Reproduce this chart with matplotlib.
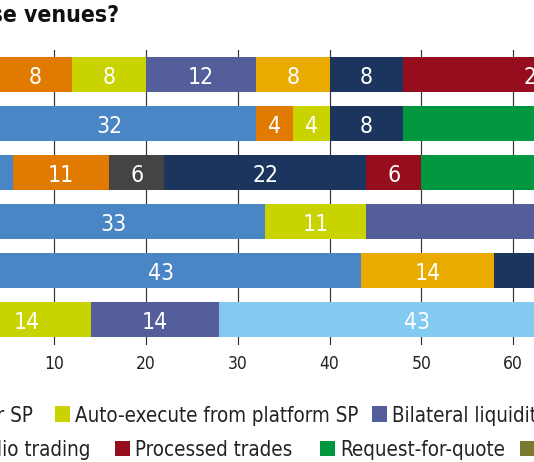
import matplotlib
matplotlib.use("Agg")
import matplotlib.pyplot as plt
from matplotlib import font_manager as fm
from matplotlib.patches import Rectangle
import numpy as np

# ---------------- data ----------------
venues = ["Venue 1", "Venue 2", "Venue 3", "Venue 4", "Venue 5", "Venue 6"]

series_names = [
    "All-to-all",
    "Auto-execute from dealer SP",
    "Auto-execute from platform SP",
    "Bilateral liquidity",
    "Central limit order book",
    "Dealer streams",
    "Portfolio trading",
    "Processed trades",
    "Request-for-quote",
    "Session-based trading",
    "Streaming",
]

all_to_all        = [4, 32, 5.49, 33, 43.4, 0]
auto_dealer_sp    = [8, 4, 10.51, 0, 0, 0]
auto_platform_sp  = [8, 4, 0, 11, 0, 14]
bilateral         = [12, 0, 0, 56, 0, 14]
clob              = [0, 0, 6, 0, 0, 0]
dealer_streams    = [8, 0, 0, 0, 14.5, 0]
portfolio_trading = [8, 8, 22, 0, 42.1, 0]
processed_trades  = [29, 0, 6, 0, 0, 0]
rfq               = [0, 52, 50, 0, 0, 0]
session_based     = [0, 0, 0, 0, 0, 0]
streaming         = [0, 0, 0, 0, 0, 43]

series_values = [all_to_all, auto_dealer_sp, auto_platform_sp, bilateral, clob,
                 dealer_streams, portfolio_trading, processed_trades, rfq,
                 session_based, streaming]

x_ticks = [10, 20, 30, 40, 50, 60, 70, 80, 90]

# ---------------- styles ----------------
colors = {
    "All-to-all": "#4a85c6",
    "Auto-execute from dealer SP": "#e07a00",
    "Auto-execute from platform SP": "#c8d300",
    "Bilateral liquidity": "#545e9b",
    "Central limit order book": "#444444",
    "Dealer streams": "#e9ab00",
    "Portfolio trading": "#1c355e",
    "Processed trades": "#960d1d",
    "Request-for-quote": "#00973f",
    "Session-based trading": "#7a7a2e",
    "Streaming": "#83caf0",
}

names = {f.name for f in fm.fontManager.ttflist}
if "Liberation Sans Narrow" in names:
    FAM = ["Liberation Sans Narrow", "DejaVu Sans"]
    STRETCH = "normal"
    sizes = dict(bar=18, tick=13.5, legend=17.5, title=19)
else:
    FAM = ["DejaVu Sans"]
    STRETCH = "condensed"
    sizes = dict(bar=16.5, tick=12.5, legend=14.8, title=16.5)
plt.rcParams["font.family"] = FAM
plt.rcParams["font.stretch"] = STRETCH

W, H = 534, 462
fig = plt.figure(figsize=(W / 100, H / 100), dpi=100)
fig.patch.set_facecolor("white")

# axes: x=0 sits at -37.9 px, 9.186 px per unit; axes spans y 50..345 px from top
ax = fig.add_axes([-37.9 / W, (H - 345) / H, 918.6 / W, 295 / H])
ax.set_xlim(0, 100)
ax.set_ylim(5.514, -0.506)

y = np.arange(len(venues))
left = np.zeros(len(venues))
for name, vals in zip(series_names, series_values):
    vals = np.array(vals, dtype=float)
    ax.barh(y, vals, left=left, height=0.714, color=colors[name], linewidth=0, zorder=2)
    for yi, l, v in zip(y, left, vals):
        if v >= 3:
            ax.annotate(f"{v:.0f}", xy=(l + v / 2, yi), xytext=(0, -6.4),
                        textcoords="offset points", ha="center", va="baseline",
                        color="white", fontsize=sizes["bar"], zorder=3)
    left += vals

for s in ax.spines.values():
    s.set_visible(False)
ax.set_xticks(x_ticks)
ax.set_xticklabels([str(t) for t in x_ticks])
ax.tick_params(axis="x", length=0, pad=7, labelsize=sizes["tick"], colors="#222222")
ax.set_yticks(y)
ax.set_yticklabels(venues)
ax.tick_params(axis="y", length=0, labelleft=False)
ax.grid(axis="x", color="#333333", linewidth=0.85, zorder=0)
ax.grid(axis="y", visible=False)
ax.set_axisbelow(True)

# title (left part falls outside the crop)
fig.text(119 / W, (H - 22) / H, "these venues?", ha="right", va="baseline",
         fontsize=sizes["title"], fontweight="bold", color="#111111")

# legend, laid out in pixel space
legend_rows = [
    (421.5, [("Auto-execute from dealer SP", "right", 33),
             ("Auto-execute from platform SP", "left", 75),
             ("Bilateral liquidity", "left", 392)]),
    (456.0, [("Portfolio trading", "right", 90),
             ("Processed trades", "left", 135),
             ("Request-for-quote", "left", 340),
             ("Session-based trading", "left", 540)]),
]
sq = 15.5
gap = 5
fig.canvas.draw()
renderer = fig.canvas.get_renderer()
for base, items in legend_rows:
    for label, ha, xpx in items:
        t = fig.text(xpx / W, (H - base) / H, label, ha=ha, va="baseline",
                     fontsize=sizes["legend"], color="#222222")
        bb = t.get_window_extent(renderer=renderer)
        sx = bb.x0 - gap - sq
        fig.patches.append(Rectangle((sx / W, (H - base) / H), sq / W, sq / H,
                                     transform=fig.transFigure, facecolor=colors[label],
                                     edgecolor="none", figure=fig))

fig.savefig("out.png", dpi=100, facecolor="white")
